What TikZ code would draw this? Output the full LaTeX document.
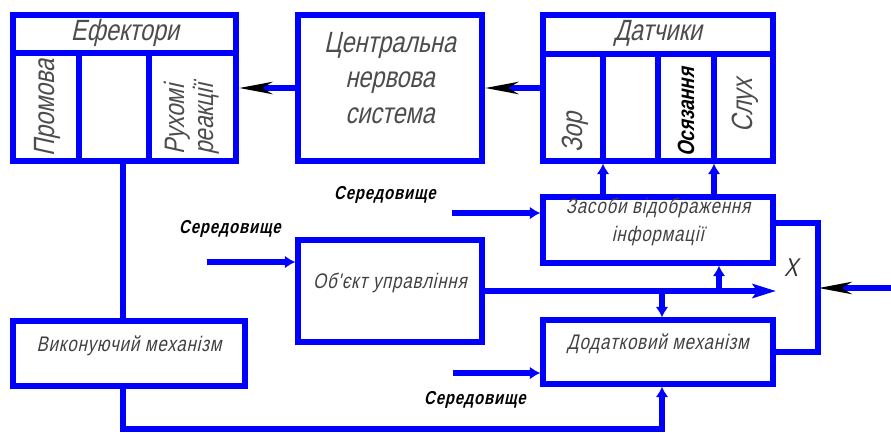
\documentclass[tikz,border=0pt]{standalone}
\usepackage{fontspec}
\newfontfamily\gostfont[FakeSlant=0.22,FakeStretch=0.8]{Liberation Sans}
\newfontfamily\gostwide[FakeSlant=0.22,FakeStretch=0.8,LetterSpace=4]{Liberation Sans}
\usetikzlibrary{positioning}
\usetikzlibrary{fit}
\usetikzlibrary{arrows.meta}
\definecolor{lineblue}{RGB}{0,0,255}

\begin{document}
\begin{tikzpicture}[x=0.03cm, y=-0.03cm]
    \tikzstyle{box}=[draw=lineblue, line width=4.5pt, inner sep=0pt, align=center, text=black!75, font=\gostwide\fontsize{18}{24}\selectfont]
    \tikzstyle{wire}=[draw=lineblue, line width=4.5pt]
    \tikzstyle{big}=[text=black!70, font=\gostfont\fontsize{25}{30}\selectfont]
    \tikzstyle{col}=[big, rotate=90, anchor=west, align=left, inner sep=0pt]
    \tikzstyle{env}=[font=\gostwide\bfseries\fontsize{16}{18}\selectfont]
    \tikzstyle{blk}=[-{Stealth[black, length=28pt, width=10pt, inset=8pt]}]
    \tikzstyle{blu}=[-{Latex[length=9pt, width=11pt]}]

    \useasboundingbox (0,0) rectangle (891,434);

    % top row: effectors, CNS, sensors
    \node[box, fit={(13,15) (236,161)}] (eff) {};
    \node[box, fit={(298,15) (482,161)}, big, align=center] (cns) {Центральна\\нервова\\система};
    \node[box, fit={(543,15) (773,161)}] (sens) {};

    \coordinate (eh) at (13,53);
    \coordinate (sh) at (543,54);
    \draw[wire] (eh) -- (eh -| eff.east);
    \draw[wire] (sh) -- (sh -| sens.east);
    \node[big] (efft) at (125,33) {Ефектори};
    \node[big] (senst) at (658,33) {Датчики};

    % columns of the effectors
    \coordinate (ed1) at (79,53);
    \coordinate (ed2) at (149,53);
    \draw[wire] (ed1) -- (ed1 |- eff.south);
    \draw[wire] (ed2) -- (ed2 |- eff.south);
    \node[col] (speech) at (47,157) {Промова};
    \node[col, font=\gostfont\fontsize{24}{25}\selectfont] (motor) at (192,155) {Рухомі\\реакції};

    % columns of the sensors
    \coordinate (sd1) at (603,54);
    \coordinate (sd2) at (658,54);
    \coordinate (sd3) at (714,54);
    \draw[wire] (sd1) -- (sd1 |- sens.south);
    \draw[wire] (sd2) -- (sd2 |- sens.south);
    \draw[wire] (sd3) -- (sd3 |- sens.south);
    \node[col] (sight) at (575,153) {Зор};
    \node[col, text=black, font=\gostfont\bfseries\fontsize{20}{20}\selectfont] (touch) at (686,157) {Осязання};
    \node[col] (hear) at (745,133) {Слух};

    \draw[wire, blk] (cns.west) -- (eff.east);
    \draw[wire, blk] (sens.west) -- (cns.east);

    % lower blocks
    \node[box, fit={(543,197) (773,263)}] (disp) {Засоби відображення\\інформації};
    \node[box, fit={(298,240) (482,342)}] (obj) {Об'єкт управління};
    \node[box, fit={(543,320) (773,384)}] (aux) {Додатковий механізм};
    \node[box, fit={(13,321) (245,386)}] (act) {Виконуючий механізм};

    \draw[wire, blu] (disp.north -| sd1) -- (sens.south -| sd1);
    \draw[wire, blu] (disp.north -| sd3) -- (sens.south -| sd3);

    % environment inputs
    \node[env] (envA) at (385,195) {Середовище};
    \node[env] (envB) at (230,229) {Середовище};
    \node[env] (envC) at (475,400) {Середовище};
    \coordinate (inA) at (452,213);
    \coordinate (inB) at (207,262);
    \coordinate (inC) at (453,373);
    \draw[wire, blu] (inA) -- (inA -| disp.west);
    \draw[wire, blu] (inB) -- (inB -| obj.west);
    \draw[wire, blu] (inC) -- (inC -| aux.west);

    % object output and its taps
    \coordinate (xin) at (776,291);
    \coordinate (tapD) at (719,291);
    \coordinate (tapA) at (662,291);
    \draw[wire, -{Stealth[lineblue, length=20pt, width=12pt, inset=4pt]}] (obj.east |- xin) -- (xin);
    \draw[wire, blu] (tapD) -- (tapD |- disp.south);
    \draw[wire, blu] (tapA) -- (tapA |- aux.north);
    \node[font=\gostfont\fontsize{22}{22}\selectfont, text=black!80] (xlab) at (791,268) {X};

    % feedback loop on the right
    \coordinate (loopT) at (818,223);
    \coordinate (xext) at (891,288);
    \draw[wire] (disp.east |- loopT) -- (loopT) -- (loopT |- aux.east) -- (aux.east);
    \draw[wire, blk] (xext) -- (xext -| loopT);

    % actuator links
    \coordinate (bot) at (123,429);
    \draw[wire] (eff.south -| bot) -- (act.north -| bot);
    \draw[wire, blu] (act.south -| bot) -- (bot) -| (aux.south -| tapA);
\end{tikzpicture}
\end{document}
